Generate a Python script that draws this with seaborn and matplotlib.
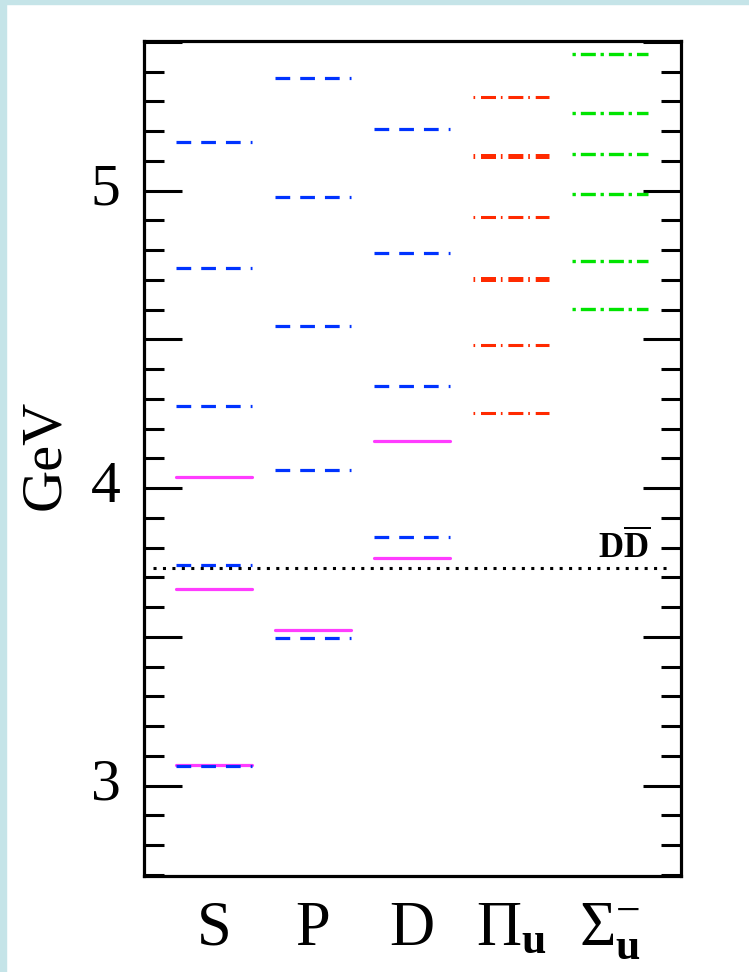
import numpy as np
import pandas as pd
import matplotlib
matplotlib.use("Agg")
import matplotlib.pyplot as plt
from matplotlib.ticker import MultipleLocator, FuncFormatter
from matplotlib.patches import Rectangle
import seaborn as sns

# ---------------- data (GeV) ----------------
columns = ["S", "P", "D", "Pi_u", "Sigma_u"]
column_labels = ["S", "P", "D", r"$\Pi_{\mathbf{u}}$", r"$\Sigma_{\mathbf{u}}^{-}$"]

# solid magenta: experimental states
S_solid = [3.068, 3.661, 4.038]
P_solid = [3.523]
D_solid = [3.765, 4.158]

# dashed blue: model states
S_dashed = [3.066, 3.741, 4.277, 4.740, 5.162]
P_dashed = [3.497, 4.062, 4.546, 4.979, 5.380]
D_dashed = [3.836, 4.343, 4.792, 5.206]

# hybrid levels
Pi_u_levels = [4.251, 4.482, 4.704, 4.912, 5.118, 5.315]
Pi_u_degeneracy = [1, 1, 2, 1, 2, 1]
Sigma_u_levels = [4.601, 4.763, 4.988, 5.122, 5.262, 5.459]

DD_threshold = 3.730

# ---------------- style ----------------
sns.set_theme(style="ticks")
plt.rcParams["font.family"] = ["Liberation Serif", "DejaVu Serif"]
plt.rcParams["mathtext.fontset"] = "custom"
plt.rcParams["mathtext.rm"] = "Liberation Serif"
plt.rcParams["mathtext.it"] = "Liberation Serif:italic"
plt.rcParams["mathtext.bf"] = "Liberation Serif:bold"
plt.rcParams["lines.scale_dashes"] = False
plt.rcParams["text.color"] = "black"
plt.rcParams["axes.labelcolor"] = "black"
plt.rcParams["xtick.color"] = "black"
plt.rcParams["ytick.color"] = "black"
plt.rcParams["axes.edgecolor"] = "black"

BLUE = "#0033FF"
MAGENTA = "#FF3CFF"
RED = "#FF2A00"
GREEN = "#00E400"
half_w = 0.384

def segments(col_idx, levels, extra=None):
    rows = []
    for k, e in enumerate(levels):
        for side in (-1, 1):
            row = {"x": col_idx + side * half_w, "E": e, "id": k}
            if extra is not None:
                row["deg"] = extra[k]
            rows.append(row)
    return pd.DataFrame(rows)

fig = plt.figure(figsize=(7.49, 9.72), dpi=100)
fig.patch.set_facecolor("white")
cyan = "#C5E4E8"
fig.patches.append(Rectangle((0, 0), 6 / 749, 1, transform=fig.transFigure,
                             color=cyan, zorder=-10))
fig.patches.append(Rectangle((0, 1 - 4 / 972), 1, 4 / 972, transform=fig.transFigure,
                             color=cyan, zorder=-10))

ax = fig.add_axes([0.1923, 0.0988, 0.7169, 0.8590])

blue_dash = (0, (10.6, 7.2))
red_dashdot = (0, (1.2, 4.2, 10.8, 3.5))
green_dashdot = (0, (2.4, 3.6, 10.8, 3.4))

# experimental (solid magenta)
for ci, lv in [(0, S_solid), (1, P_solid), (2, D_solid)]:
    sns.lineplot(data=segments(ci, lv), x="x", y="E", units="id", estimator=None,
                 color=MAGENTA, linewidth=2.3, ax=ax, legend=False)
# model (dashed blue)
for ci, lv in [(0, S_dashed), (1, P_dashed), (2, D_dashed)]:
    sns.lineplot(data=segments(ci, lv), x="x", y="E", units="id", estimator=None,
                 color=BLUE, linewidth=2.3, linestyle=blue_dash, ax=ax, legend=False)

# Pi_u hybrids (thicker for degenerate levels)
pi_df = segments(3, Pi_u_levels, Pi_u_degeneracy)
for deg, lw in [(1, 2.2), (2, 3.6)]:
    sub = pi_df[pi_df["deg"] == deg]
    sns.lineplot(data=sub, x="x", y="E", units="id", estimator=None,
                 color=RED, linewidth=lw, linestyle=red_dashdot, ax=ax, legend=False)

# Sigma_u^- hybrids
sns.lineplot(data=segments(4, Sigma_u_levels), x="x", y="E", units="id", estimator=None,
             color=GREEN, linewidth=2.4, linestyle=green_dashdot, ax=ax, legend=False)

# DD threshold
ax.hlines(DD_threshold, -0.618, 4.624, colors="black", linewidth=2.2,
          linestyles=[(0, (2.2, 4.6))])
ax.text(3.88, DD_threshold + 0.035, r"$\mathbf{D\overline{D}}$", fontsize=25,
        ha="left", va="baseline")

# axes
ax.set_xlim(-0.706, 4.718)
ax.set_ylim(2.696, 5.503)
ax.set_xlabel("")
ax.set_ylabel("GeV", fontsize=42)
ax.yaxis.label.set_verticalalignment("center")
ax.yaxis.set_label_coords(-0.1844, 0.504)

ax.yaxis.set_major_locator(MultipleLocator(0.5))
ax.yaxis.set_minor_locator(MultipleLocator(0.1))
ax.yaxis.set_major_formatter(FuncFormatter(
    lambda v, p: f"{v:.0f}" if abs(v - round(v)) < 1e-6 else ""))
ax.tick_params(axis="y", which="both", direction="in", left=True, right=True,
               labelright=False, width=2.2, labelsize=43, pad=17)
ax.tick_params(axis="y", which="major", length=27.4)
ax.tick_params(axis="y", which="minor", length=14.4)
for t in ax.yaxis.get_major_ticks():
    t.label1.set_verticalalignment("center")

ax.set_xticks(range(len(columns)))
ax.set_xticklabels(column_labels)
ax.tick_params(axis="x", which="both", length=0, labelsize=45, pad=49.7)
for t in ax.xaxis.get_major_ticks():
    t.label1.set_verticalalignment("baseline")

for s in ax.spines.values():
    s.set_linewidth(2.3)
    s.set_visible(True)

fig.savefig("out.png", dpi=100, facecolor="white")
